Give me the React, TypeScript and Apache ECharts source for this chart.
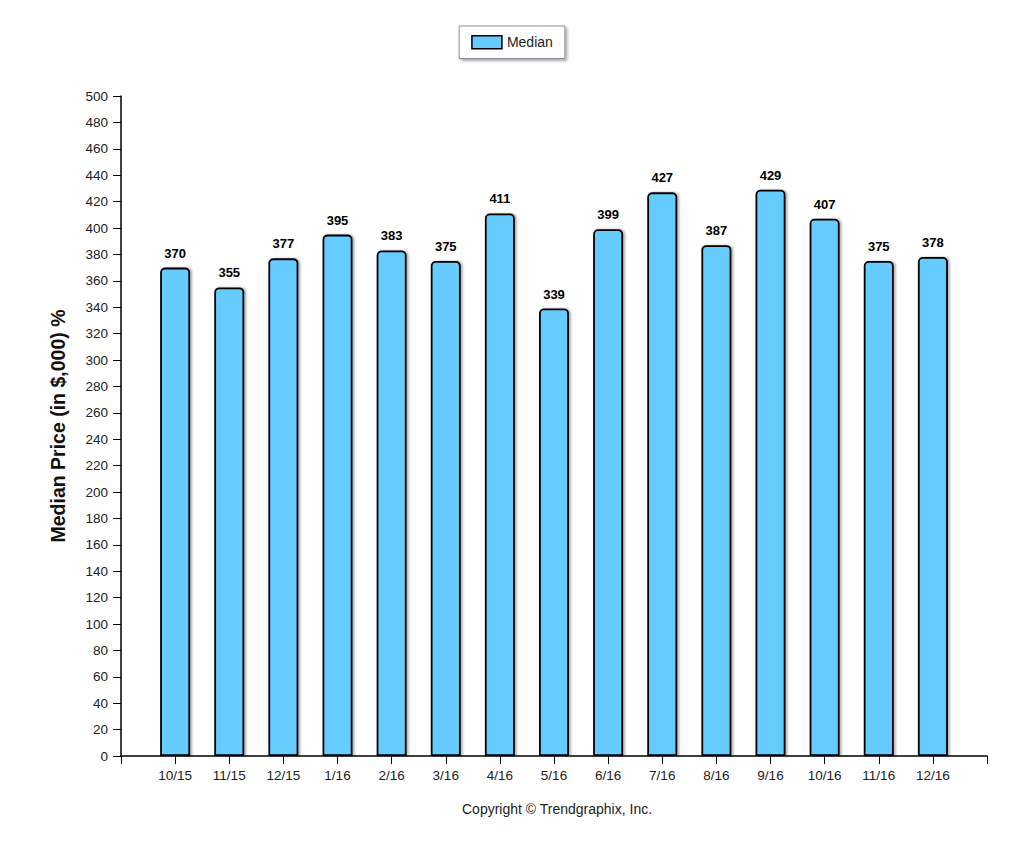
import React, { useEffect, useRef } from "react";
import * as echarts from "echarts";

const categories = ["10/15", "11/15", "12/15", "1/16", "2/16", "3/16", "4/16", "5/16", "6/16", "7/16", "8/16", "9/16", "10/16", "11/16", "12/16"];
const medianValues = [370, 355, 377, 395, 383, 375, 411, 339, 399, 427, 387, 429, 407, 375, 378];
const yMin = 0;
const yMax = 500;
const yInterval = 20;

export default function App() {
  const ref = useRef<HTMLDivElement>(null);
  useEffect(() => {
    if (!ref.current) return;
    const chart = echarts.init(ref.current, undefined, { renderer: "svg" });
    const axisCats = ["", ...categories, ""];
    const data: any[] = ["-", ...medianValues, "-"];
    const font = "'Liberation Sans', Arial, sans-serif";
    chart.setOption({
      animation: false,
      textStyle: { fontFamily: font },
      legend: {
        top: 26,
        left: "center",
        data: [{ name: "Median", icon: "rect" }],
        itemWidth: 30,
        itemHeight: 13,
        padding: [9, 12, 9, 12],
        backgroundColor: "#fff",
        borderColor: "#8a8a99",
        borderWidth: 1,
        shadowColor: "rgba(0,0,0,0.35)",
        shadowBlur: 3,
        shadowOffsetX: 2,
        shadowOffsetY: 2,
        textStyle: { fontSize: 14, color: "#222", fontFamily: font },
        itemStyle: { borderColor: "#000", borderWidth: 1.5 },
      },
      grid: { left: 121, right: 37, top: 96, bottom: 97, containLabel: false },
      xAxis: {
        type: "category",
        data: axisCats,
        boundaryGap: false,
        axisLine: { lineStyle: { color: "#000", width: 1.5 } },
        axisTick: { show: true, length: 8, lineStyle: { color: "#000", width: 1 } },
        axisLabel: { color: "#222", fontSize: 13.5, margin: 12, interval: 0, fontFamily: font },
        splitLine: { show: false },
      },
      yAxis: {
        type: "value",
        min: yMin,
        max: yMax,
        interval: yInterval,
        name: "Median Price (in $,000) %",
        nameLocation: "middle",
        nameGap: 53,
        nameTextStyle: { fontSize: 19.5, fontWeight: "bold", color: "#111", fontFamily: font },
        axisLine: { show: true, lineStyle: { color: "#000", width: 1.5 } },
        axisTick: { show: true, length: 8, lineStyle: { color: "#000" } },
        axisLabel: { color: "#222", fontSize: 13.5, margin: 13, fontFamily: font },
        splitLine: { show: false },
      },
      series: [
        {
          name: "Median",
          type: "bar",
          data,
          barWidth: 30,
          itemStyle: {
            color: "#66CCFF",
            borderColor: "#000",
            borderWidth: 1.8,
            borderRadius: [4, 4, 0, 0],
            shadowColor: "rgba(0,0,0,0.3)",
            shadowBlur: 2,
            shadowOffsetX: 2,
            shadowOffsetY: 0,
          },
          label: {
            show: true,
            position: "top",
            distance: 8,
            fontSize: 13,
            fontWeight: "bold",
            color: "#000",
            fontFamily: font,
          },
        },
      ],
      graphic: [
        {
          type: "text",
          left: 462,
          top: 802,
          style: { text: "Copyright © Trendgraphix, Inc.", fontSize: 14, fill: "#222", fontFamily: font },
        },
      ],
    });
    return () => chart.dispose();
  }, []);
  return <div ref={ref} style={{ width: 1024, height: 853, margin: -8 }} />;
}
